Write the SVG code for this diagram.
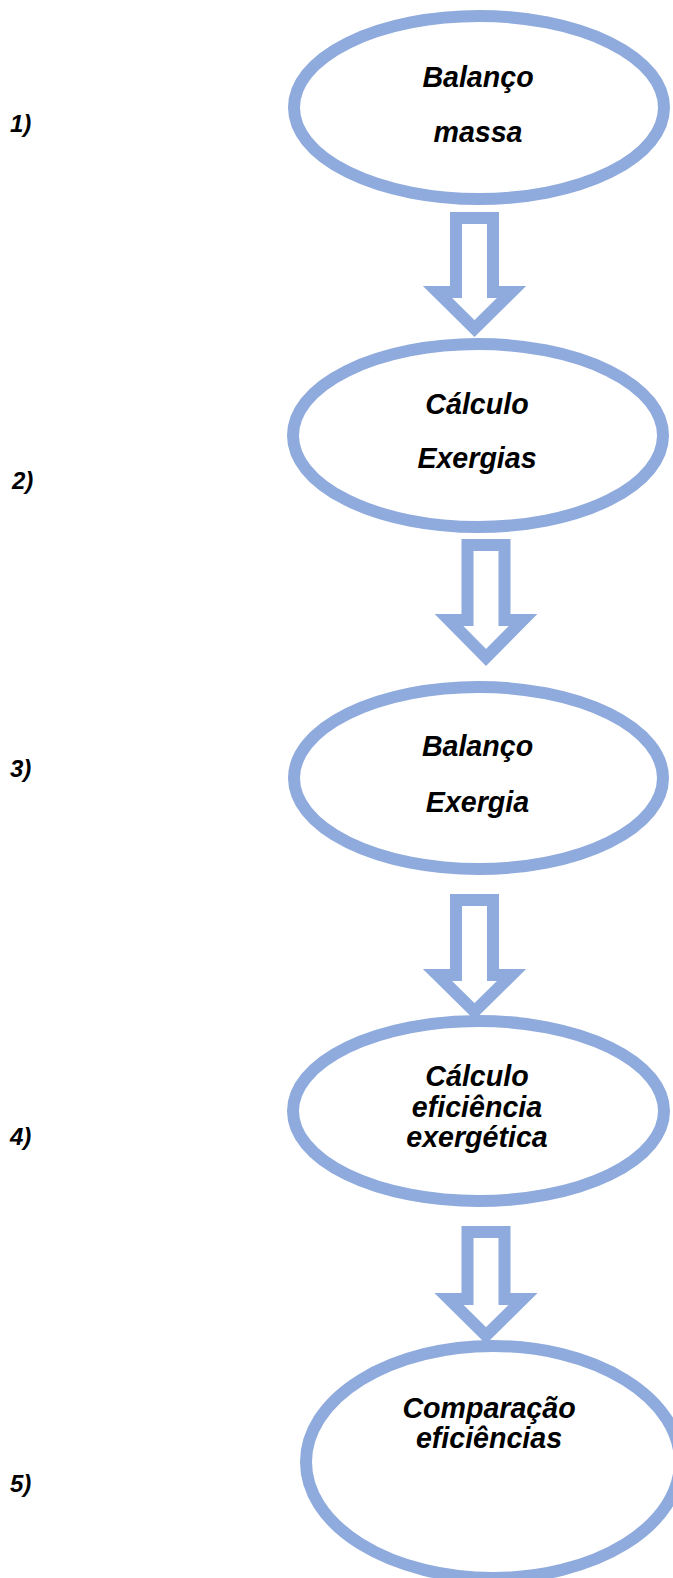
<svg xmlns="http://www.w3.org/2000/svg" width="673" height="1578" viewBox="0 0 673 1578">
<style>
.node{fill:#FFFFFF;stroke:#8FAADC;stroke-width:12}
.arrow{fill:#FFFFFF;stroke:#8FAADC;stroke-width:12;stroke-linejoin:miter;stroke-miterlimit:10}
.t{font-family:"Liberation Sans",Arial,sans-serif;font-weight:bold;font-style:italic;font-size:28.6px;fill:#000000;text-anchor:middle}
.lbl{font-family:"Liberation Sans",Arial,sans-serif;font-weight:bold;font-style:italic;font-size:24px;fill:#000000}
</style>
<rect width="673" height="1578" fill="#FFFFFF"/>
<g id="connectors">
<path class="arrow" d="M456,218 H493 V292 H511.5 L474.5,328.5 L437.5,292 H456 Z"/>
<path class="arrow" d="M467.5,545 H504.5 V620 H523 L486,657.5 L449,620 H467.5 Z"/>
<path class="arrow" d="M456,900 H493 V975 H511.5 L474.5,1011.5 L437.5,975 H456 Z"/>
<path class="arrow" d="M467.5,1232 H504.5 V1299 H523 L486,1335.5 L449,1299 H467.5 Z"/>
</g>
<g id="node1">
<ellipse class="node" cx="479" cy="107.5" rx="185" ry="91.5"/>
<text class="t" x="478" y="87">Balanço</text>
<text class="t" x="478" y="142">massa</text>
</g>
<g id="node2">
<ellipse class="node" cx="478" cy="435.5" rx="185" ry="91.5"/>
<text class="t" x="477" y="414">Cálculo</text>
<text class="t" x="477" y="468">Exergias</text>
</g>
<g id="node3">
<ellipse class="node" cx="478.5" cy="778" rx="184.5" ry="91"/>
<text class="t" x="477.5" y="756">Balanço</text>
<text class="t" x="477.5" y="812">Exergia</text>
</g>
<g id="node4">
<ellipse class="node" cx="478.5" cy="1111" rx="185.5" ry="90"/>
<text class="t" x="477" y="1086">Cálculo</text>
<text class="t" x="477" y="1117">eficiência</text>
<text class="t" x="477" y="1147">exergética</text>
</g>
<g id="node5">
<ellipse class="node" cx="493" cy="1462" rx="187" ry="116"/>
<text class="t" x="489" y="1418">Comparação</text>
<text class="t" x="489" y="1448">eficiências</text>
</g>
<g id="labels">
<text class="lbl" x="10" y="132">1)</text>
<text class="lbl" x="12" y="489">2)</text>
<text class="lbl" x="10" y="777">3)</text>
<text class="lbl" x="10" y="1145">4)</text>
<text class="lbl" x="10" y="1492">5)</text>
</g>
</svg>
